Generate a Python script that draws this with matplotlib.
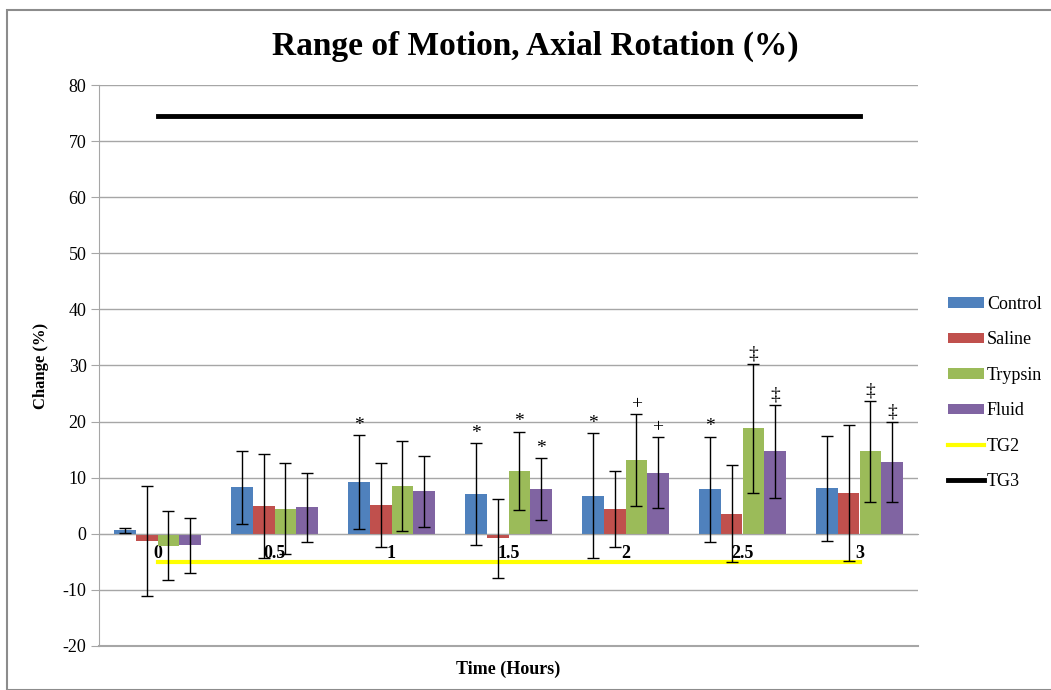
import numpy as np
import matplotlib.pyplot as plt
from matplotlib.patches import Rectangle

# data
categories = ['0', '0.5', '1', '1.5', '2', '2.5', '3']
control = [0.6, 8.3, 9.2, 7.1, 6.8, 7.9, 8.15]
control_sd = [0.5, 6.5, 8.4, 9.1, 11.1, 9.4, 9.35]
saline = [-1.3, 5.0, 5.2, -0.8, 4.4, 3.6, 7.3]
saline_sd = [9.8, 9.3, 7.5, 7.0, 6.8, 8.7, 12.1]
trypsin = [-2.1, 4.5, 8.5, 11.2, 13.1, 18.8, 14.7]
trypsin_sd = [6.2, 8.1, 8.0, 7.0, 8.2, 11.5, 9.0]
fluid = [-2.0, 4.7, 7.6, 8.0, 10.9, 14.7, 12.8]
fluid_sd = [4.9, 6.2, 6.3, 5.5, 6.3, 8.3, 7.2]
tg2 = [-5, -5, -5, -5, -5, -5, -5]
tg3 = [74.4, 74.4, 74.4, 74.4, 74.4, 74.4, 74.4]

# significance marks above each bar
control_marks = ['', '', '*', '*', '*', '*', '']
saline_marks = ['', '', '', '', '', '', '']
trypsin_marks = ['', '', '', '*', '+', '\u2021', '\u2021']
fluid_marks = ['', '', '', '*', '+', '\u2021', '\u2021']

plt.rcParams['font.family'] = ['Liberation Serif', 'DejaVu Serif']
plt.rcParams['axes.unicode_minus'] = False

fig = plt.figure(figsize=(10.51, 6.90), dpi=100)
ax = fig.add_axes([99 / 1051, 1 - 646 / 690, 819 / 1051, 561 / 690])

# chart border
fig.patches.append(Rectangle((7 / 1051, 0.5 / 690), 1.2, 680 / 690, transform=fig.transFigure,
                             fill=False, edgecolor='#8c8c8c', linewidth=1.5))

x = np.arange(len(categories))
w = 0.185
series = [
    ('Control', control, control_sd, control_marks, '#4F81BD'),
    ('Saline', saline, saline_sd, saline_marks, '#C0504D'),
    ('Trypsin', trypsin, trypsin_sd, trypsin_marks, '#9BBB59'),
    ('Fluid', fluid, fluid_sd, fluid_marks, '#8064A2'),
]

handles = []
for i, (name, vals, sd, marks, color) in enumerate(series):
    pos = x + (i - 1.5) * w
    b = ax.bar(pos, vals, width=w, color=color, label=name, zorder=2)
    handles.append(b)
    ax.errorbar(pos, vals, yerr=sd, fmt='none', ecolor='black', elinewidth=1,
                capsize=4, capthick=1, zorder=3)
    for p, v, s, m in zip(pos, vals, sd, marks):
        if m:
            ax.annotate(m, (p, v + s), xytext=(0, 1), textcoords='offset points',
                        ha='center', va='bottom', fontsize=14, zorder=4)

l2, = ax.plot(x, tg2, color='#FFFF00', linewidth=3, label='TG2', zorder=2.5)
l3, = ax.plot(x, tg3, color='black', linewidth=3.5, label='TG3', zorder=2.5)
handles += [l2, l3]

ax.set_xlim(-0.5, len(categories) - 0.5)
ax.set_ylim(-20, 80)
ax.set_yticks(np.arange(-20, 81, 10))
ax.yaxis.grid(True, color='#a6a6a6', linewidth=1)
ax.set_axisbelow(True)
ax.axhline(-20, color='#a6a6a6', linewidth=1.5, zorder=0, clip_on=False)

ax.spines['top'].set_visible(False)
ax.spines['right'].set_visible(False)
ax.spines['left'].set_color('#a6a6a6')
ax.spines['bottom'].set_position(('data', 0))
ax.spines['bottom'].set_color('#a6a6a6')

ax.set_xticks(x)
ax.set_xticklabels(categories, fontweight='bold', fontsize=13)
ax.tick_params(axis='x', length=0, pad=8)
ax.tick_params(axis='y', length=6, color='#a6a6a6', labelsize=13, pad=3)

ax.set_ylabel('Change (%)', fontweight='bold', fontsize=12, labelpad=10)
ax.text(0.5, -0.026, 'Time (Hours)', transform=ax.transAxes, ha='center', va='top',
        fontweight='bold', fontsize=13)

fig.text(535 / 1051, 1 - 46 / 690, 'Range of Motion, Axial Rotation (%)',
         ha='center', va='center', fontweight='bold', fontsize=24)

fig.legend(handles=handles, loc='center left', bbox_to_anchor=(948 / 1051, 1 - 393 / 690),
           frameon=False, fontsize=13, handlelength=2.0, handleheight=0.5,
           handletextpad=0.15, labelspacing=1.02, borderaxespad=0, borderpad=0)

fig.savefig('out.png', dpi=100)
